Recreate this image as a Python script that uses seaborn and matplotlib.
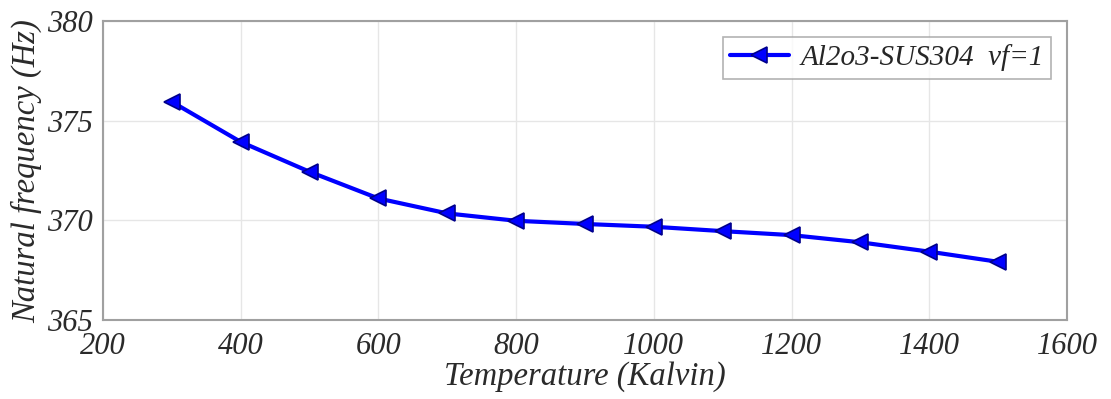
import seaborn as sns
import matplotlib.pyplot as plt
import pandas as pd

# Natural frequency vs temperature, Al2o3-SUS304, vf=1
temperature = [300, 400, 500, 600, 700, 800, 900, 1000, 1100, 1200, 1300, 1400, 1500]
frequency = [375.95, 373.94, 372.44, 371.10, 370.35, 369.98, 369.82, 369.68,
             369.46, 369.26, 368.90, 368.43, 367.92]
series_label = 'Al2o3-SUS304  vf=1'

sns.set_style('white')
plt.rcParams['font.family'] = ['Liberation Serif', 'DejaVu Serif']
plt.rcParams['font.style'] = 'italic'

df = pd.DataFrame({'Temperature': temperature, 'Frequency': frequency})

fig = plt.figure(figsize=(11.11, 3.99), dpi=100)
ax = fig.add_axes([0.0927, 0.198, 0.8677, 0.749])

sns.lineplot(data=df, x='Temperature', y='Frequency', ax=ax, color='#0000ff',
             linewidth=3, marker='<', markersize=12, markeredgecolor='#00008b',
             markeredgewidth=1.2, label=series_label)

ax.set_xlim(200, 1600)
ax.set_ylim(365, 380)
ax.set_xticks(range(200, 1601, 200))
ax.set_yticks([365, 370, 375, 380])
ax.grid(True, color='#e6e6e6', linewidth=1)
ax.tick_params(direction='in', length=6, color='#999999', labelsize=22,
               labelcolor='#2a2a2a')
ax.tick_params(axis='x', pad=9)
ax.tick_params(axis='y', pad=7)
for s in ax.spines.values():
    s.set_color('#a0a0a0')
    s.set_linewidth(1.5)

ax.set_xlabel('Temperature (Kalvin)', fontsize=23.5, color='#2a2a2a', labelpad=0)
ax.set_ylabel('Natural frequency (Hz)', fontsize=23.5, color='#2a2a2a', labelpad=4)

leg = ax.legend(loc='upper right', fontsize=21, frameon=True, fancybox=False,
                borderpad=0.25, handlelength=2.0, handletextpad=0.4,
                borderaxespad=0.55)
leg.get_frame().set_edgecolor('#a0a0a0')
leg.get_frame().set_linewidth(1.2)

plt.savefig('out.png', dpi=100)
